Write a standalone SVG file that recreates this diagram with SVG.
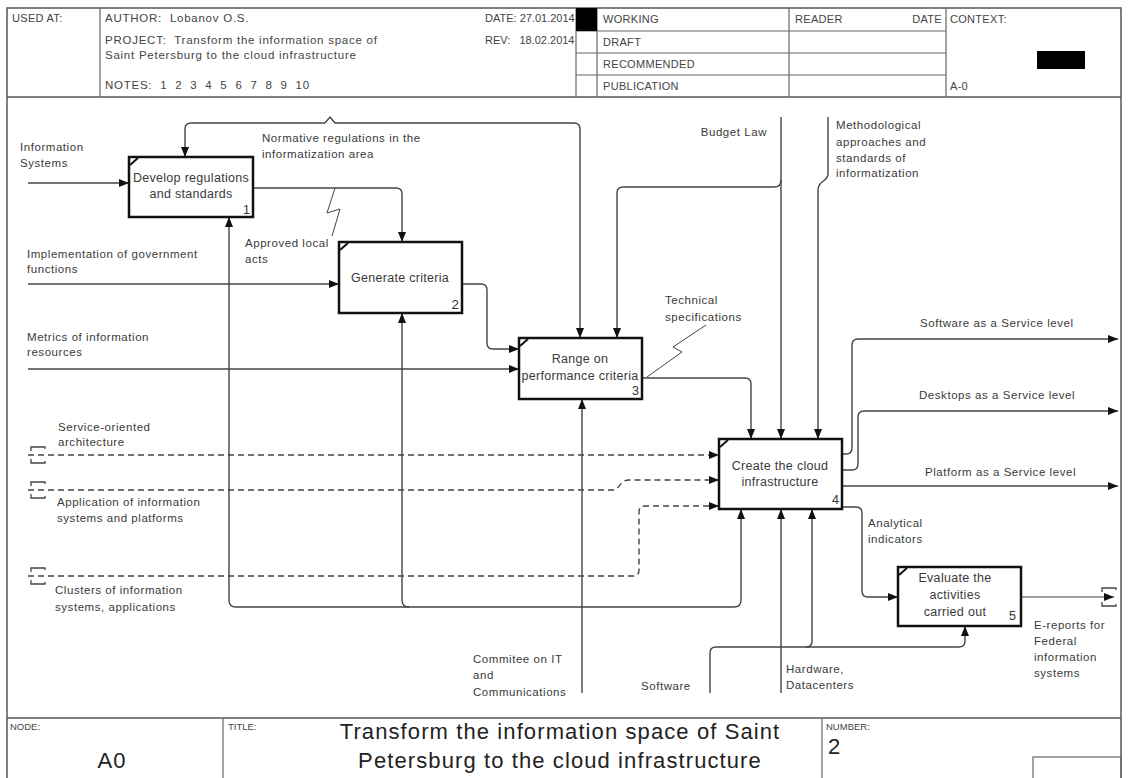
<svg xmlns="http://www.w3.org/2000/svg" width="1128" height="778" viewBox="0 0 1128 778">
<defs>
<marker id="ah" markerWidth="10" markerHeight="8" refX="10" refY="4" orient="auto" markerUnits="userSpaceOnUse">
<path d="M0,0 L10,4 L0,8 z" fill="#111"/>
</marker>
<style>
text{font-family:"Liberation Sans",Arial,sans-serif;font-size:11.5px;letter-spacing:0.55px;fill:#3a3a3a}
.hd{font-size:11px;letter-spacing:0.3px;fill:#444}
.au{font-size:11.5px;letter-spacing:0.75px;fill:#444}
.sm{font-size:9.5px;letter-spacing:0;fill:#444}
.frame{fill:none;stroke:#555;stroke-width:1.5}
.cell{fill:none;stroke:#666;stroke-width:1.2}
.box{fill:#fff;stroke:#111;stroke-width:2.5}
.tick{stroke:#111;stroke-width:2;fill:none}
.bt{font-size:12.5px;letter-spacing:0.3px;fill:#3a3a3a;text-anchor:middle}
.num{font-size:12.5px;letter-spacing:0;fill:#333;text-anchor:end}
.c{fill:none;stroke:#444;stroke-width:1.4}
.a{marker-end:url(#ah)}
.d{stroke-dasharray:6,4}
.zz{fill:none;stroke:#444;stroke-width:1}
.tn{fill:none;stroke:#444;stroke-width:1.3}
.big{font-size:22px;letter-spacing:1.1px;fill:#222}
</style>
</defs>
<rect width="1128" height="778" fill="#fff"/>
<g id="frame">
<rect class="frame" x="7" y="8" width="1114" height="790"/>
<line class="frame" x1="7" y1="97" x2="1121" y2="97"/>
<line class="frame" x1="7" y1="718" x2="1121" y2="718"/>
<line class="cell" x1="100" y1="8" x2="100" y2="97"/>
<line class="cell" x1="576" y1="8" x2="576" y2="97"/>
<line class="cell" x1="597" y1="8" x2="597" y2="97"/>
<line class="cell" x1="789" y1="8" x2="789" y2="97"/>
<line class="cell" x1="946" y1="8" x2="946" y2="97"/>
<line class="cell" x1="576" y1="31" x2="946" y2="31"/>
<line class="cell" x1="576" y1="53" x2="946" y2="53"/>
<line class="cell" x1="576" y1="75" x2="946" y2="75"/>
<rect x="576" y="8" width="21" height="23" fill="#000"/>
<rect x="1037" y="51" width="48" height="18" fill="#000"/>
<text class="hd" x="12" y="22">USED AT:</text>
<text class="au" x="105" y="22" xml:space="preserve">AUTHOR:  Lobanov O.S.</text>
<text class="au" x="105" y="44" xml:space="preserve">PROJECT:  Transform the information space of</text>
<text class="au" x="105" y="59">Saint Petersburg to the cloud infrastructure</text>
<text class="au" x="105" y="89" xml:space="preserve">NOTES:  1  2  3  4  5  6  7  8  9  10</text>
<text class="hd" x="485" y="22" style="letter-spacing:0">DATE: 27.01.2014</text>
<text class="hd" x="485" y="44" style="letter-spacing:0" xml:space="preserve">REV:   18.02.2014</text>
<text class="hd" x="603" y="23">WORKING</text>
<text class="hd" x="603" y="46">DRAFT</text>
<text class="hd" x="603" y="68">RECOMMENDED</text>
<text class="hd" x="603" y="90">PUBLICATION</text>
<text class="hd" x="795" y="23">READER</text>
<text class="hd" x="942" y="23" text-anchor="end">DATE</text>
<text class="hd" x="950" y="23">CONTEXT:</text>
<text class="hd" x="950" y="90">A-0</text>
<line class="cell" x1="223" y1="718" x2="223" y2="778"/>
<line class="cell" x1="822" y1="718" x2="822" y2="778"/>
<rect class="cell" x="1033" y="757" width="88" height="30"/>
<text class="sm" x="10" y="730">NODE:</text>
<text class="sm" x="228" y="730">TITLE:</text>
<text class="sm" x="826" y="730">NUMBER:</text>
<text class="big" x="112" y="768" text-anchor="middle">A0</text>
<text class="big" x="560" y="739" text-anchor="middle">Transform the information space of Saint</text>
<text class="big" x="560" y="768" text-anchor="middle">Petersburg to the cloud infrastructure</text>
<text class="big" x="828" y="754">2</text>
</g>
<g id="connectors">
<path class="c a" d="M28,183 H129"/>
<path class="c a" d="M28,284 H339"/>
<path class="c a" d="M28,369 H519"/>
<path class="c a" d="M325,123 H191 Q185,123 185,129 V157"/>
<path class="c a" d="M325,123 L330,117 L335,123 H574 Q580,123 580,129 V338"/>
<path class="c a" d="M253,188 H396 Q402,188 402,194 V242"/>
<path class="zz" d="M335,188 L327,213 L340,209 L332,236"/>
<path class="c a" d="M462,284 H481 Q487,284 487,290 V343 Q487,349 493,349 H519"/>
<path class="c a" d="M582,693 V399"/>
<path class="c a" d="M582,607 H236 Q229,607 229,600 V217"/>
<path class="c a" d="M409,607 Q402,607 402,600 V313"/>
<path class="c a" d="M582,607 H734 Q741,607 741,600 V509"/>
<path class="c a" d="M781,117 V439"/>
<path class="c a" d="M781,180 Q781,187 774,187 H623 Q617,187 617,193 V338"/>
<path class="c a" d="M828,117 V174 C828,182 818,180 818,190 V439"/>
<path class="c a" d="M642,378 H745 Q751,378 751,384 V439"/>
<path class="zz" d="M647,377 L682,352 L673,347 L706,325"/>
<path class="c a d" d="M28,455 H719"/>
<path class="c a d" d="M28,490 H612 Q617,490 620,485 Q623,480 629,480 H719"/>
<path class="c a d" d="M28,576 H633 Q639,576 639,570 V512 Q639,506 645,506 H719"/>
<path class="tn" d="M31,451 V447 H45 V449 M31,459 V463 H45 V461"/>
<path class="tn" d="M31,486 V482 H45 V484 M31,494 V498 H45 V496"/>
<path class="tn" d="M31,572 V568 H45 V570 M31,580 V584 H45 V582"/>
<path class="c a" d="M842,454 H846 Q852,454 852,448 V345 Q852,339 858,339 H1118"/>
<path class="c a" d="M842,470 H852 Q858,470 858,464 V417 Q858,411 864,411 H1118"/>
<path class="c a" d="M842,486 H1118"/>
<path class="c a" d="M842,507 H856 Q862,507 862,513 V591 Q862,597 868,597 H898"/>
<path class="c a" d="M1021,597 H1114" style="stroke-width:1"/>
<path class="tn" d="M1102,592 V588 H1116 V590 M1102,602 V606 H1116 V604"/>
<path class="c a" d="M710,693 V653 Q710,647 716,647 H959 Q965,647 965,641 V626"/>
<path class="c a" d="M806,647 Q812,647 812,641 V509"/>
<path class="c a" d="M781,693 V509"/>
</g>
<g id="labels">
<text x="20" y="151">Information</text>
<text x="20" y="167">Systems</text>
<text x="262" y="142">Normative regulations in the</text>
<text x="262" y="158">informatization area</text>
<text x="245" y="247">Approved local</text>
<text x="245" y="263">acts</text>
<text x="27" y="258">Implementation of government</text>
<text x="27" y="273">functions</text>
<text x="27" y="341">Metrics of information</text>
<text x="27" y="356">resources</text>
<text x="767" y="136" text-anchor="end">Budget Law</text>
<text x="836" y="129">Methodological</text>
<text x="836" y="146">approaches and</text>
<text x="836" y="162">standards of</text>
<text x="836" y="177">informatization</text>
<text x="665" y="304">Technical</text>
<text x="665" y="321">specifications</text>
<text x="58" y="431">Service-oriented</text>
<text x="58" y="446">architecture</text>
<text x="57" y="506">Application of information</text>
<text x="57" y="522">systems and platforms</text>
<text x="55" y="594">Clusters of information</text>
<text x="55" y="611">systems, applications</text>
<text x="920" y="327">Software as a Service level</text>
<text x="919" y="399">Desktops as a Service level</text>
<text x="925" y="476">Platform as a Service level</text>
<text x="868" y="527">Analytical</text>
<text x="868" y="543">indicators</text>
<text x="1034" y="629">E-reports for</text>
<text x="1034" y="645">Federal</text>
<text x="1034" y="661">information</text>
<text x="1034" y="677">systems</text>
<text x="473" y="663">Commitee on IT</text>
<text x="473" y="679">and</text>
<text x="473" y="696">Communications</text>
<text x="641" y="690">Software</text>
<text x="786" y="673">Hardware,</text>
<text x="786" y="689">Datacenters</text>
</g>
<g id="box1">
<rect class="box" x="129" y="157" width="124" height="60"/>
<path class="tick" d="M130,165 L138,158"/>
<text class="bt" x="191" y="182">Develop regulations</text>
<text class="bt" x="191" y="198">and standards</text>
<text class="num" x="250" y="214">1</text>
</g>
<g id="box2">
<rect class="box" x="339" y="242" width="123" height="71"/>
<path class="tick" d="M340,250 L348,243"/>
<text class="bt" x="400" y="282">Generate criteria</text>
<text class="num" x="459" y="309" style="font-size:13.5px">2</text>
</g>
<g id="box3">
<rect class="box" x="519" y="338" width="123" height="61"/>
<path class="tick" d="M520,346 L528,339"/>
<text class="bt" x="580" y="363">Range on</text>
<text class="bt" x="580" y="380">performance criteria</text>
<text class="num" x="639" y="395">3</text>
</g>
<g id="box4">
<rect class="box" x="719" y="439" width="123" height="70"/>
<path class="tick" d="M720,447 L728,440"/>
<text class="bt" x="780" y="470">Create the cloud</text>
<text class="bt" x="780" y="486">infrastructure</text>
<text class="num" x="839" y="504">4</text>
</g>
<g id="box5">
<rect class="box" x="898" y="567" width="123" height="59"/>
<path class="tick" d="M899,575 L907,568"/>
<text class="bt" x="955" y="582">Evaluate the</text>
<text class="bt" x="955" y="599">activities</text>
<text class="bt" x="955" y="616">carried out</text>
<text class="num" x="1016" y="620">5</text>
</g>
</svg>
